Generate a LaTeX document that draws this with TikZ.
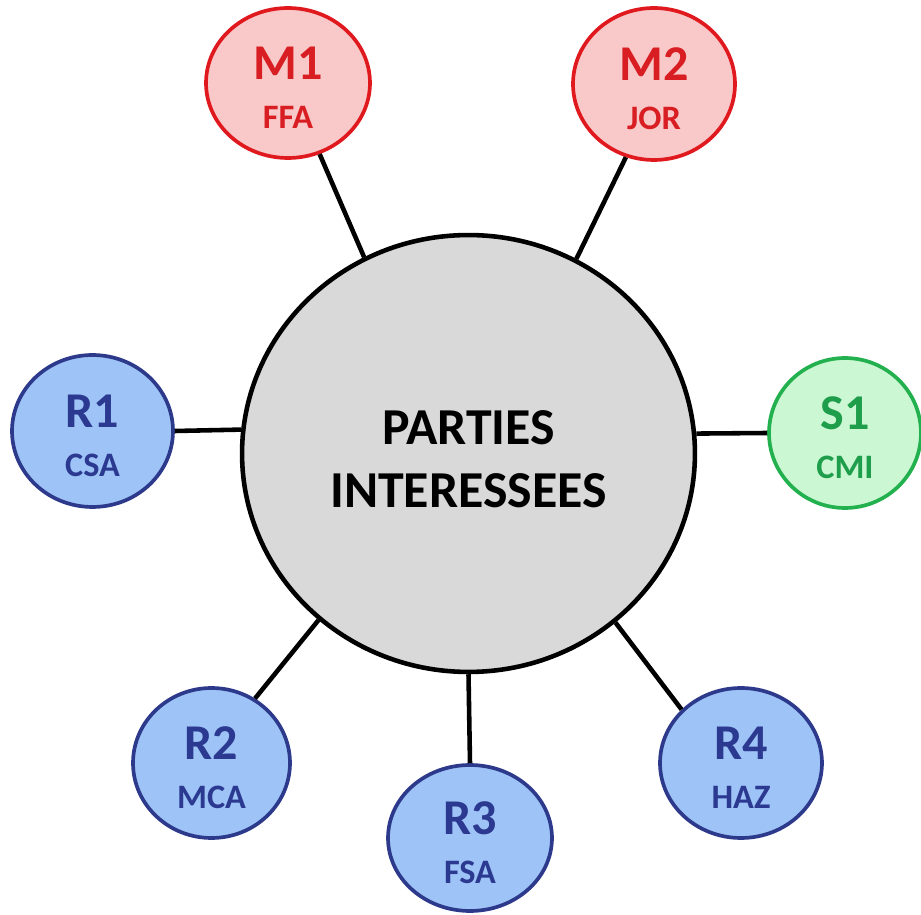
\documentclass[tikz,border=0pt]{standalone}
\usepackage{fontspec}
\setmainfont{Carlito}
\usetikzlibrary{shapes.geometric}
\definecolor{hubfill}{HTML}{D9D9D9}
\definecolor{redline}{HTML}{E0191E}
\definecolor{redfill}{HTML}{F9C8C8}
\definecolor{redtext}{HTML}{D81E22}
\definecolor{blueline}{HTML}{2D3A8C}
\definecolor{bluefill}{HTML}{9DC3F7}
\definecolor{bluetext}{HTML}{2B3990}
\definecolor{greenline}{HTML}{23B04E}
\definecolor{greenfill}{HTML}{CCF7D3}
\definecolor{greentext}{HTML}{1E9E4A}
\tikzset{
  hub/.style={ellipse, draw=black, line width=2.6pt, fill=hubfill, inner sep=0pt,
    minimum width=9.06cm, minimum height=8.74cm, align=center,
    font=\bfseries\fontsize{29.5}{36}\selectfont},
  party/.style={ellipse, inner sep=0pt, line width=2.1pt, align=center,
    minimum width=3.24cm, minimum height=3.0cm,
    font=\bfseries\fontsize{19.5}{27.5}\selectfont},
  redp/.style={party, draw=redline, fill=redfill, text=redtext},
  bluep/.style={party, draw=blueline, fill=bluefill, text=bluetext},
  greenp/.style={party, draw=greenline, fill=greenfill, text=greentext},
  conn/.style={draw=black, line width=2.6pt},
}
\newcommand{\toplabel}[1]{{\fontsize{28.5}{27.5}\selectfont\rule{0pt}{24pt}#1}}
\begin{document}
\begin{tikzpicture}[x=0.02cm,y=-0.02cm]
\useasboundingbox (0,0) rectangle (921,915);
\node[hub] (hub) at (468.5,453.5) {\rule{0pt}{26pt}PARTIES\\INTERESSEES};
\node[redp, minimum width=3.28cm, minimum height=3.0cm] (m1) at (288,83) {\toplabel{M1}\\FFA};
\node[redp, minimum width=3.24cm, minimum height=3.04cm] (m2) at (654,84) {\toplabel{M2}\\JOR};
\node[bluep, minimum width=3.22cm, minimum height=3.04cm] (r1) at (92.5,431) {\toplabel{R1}\\CSA};
\node[greenp, minimum width=3.04cm, minimum height=3.0cm] (s1) at (845,433) {\toplabel{S1}\\CMI};
\node[bluep, minimum width=3.14cm, minimum height=3.0cm] (r2) at (211.5,763) {\toplabel{R2}\\MCA};
\node[bluep, minimum width=3.28cm, minimum height=2.92cm] (r3) at (470,838) {\toplabel{R3}\\FSA};
\node[bluep, minimum width=3.24cm, minimum height=3.0cm] (r4) at (741,763) {\toplabel{R4}\\HAZ};
\draw[conn] (m1.294.4) -- (hub.118.4);
\draw[conn] (m2.249.1) -- (hub.61.5);
\draw[conn] (r1.east) -- (hub.174.6);
\draw[conn] (s1.west) -- (hub.5.4);
\draw[conn] (r2.56.2) -- (hub.228.3);
\draw[conn] (r3.north) -- (hub.270);
\draw[conn] (r4.138) -- (hub.311.3);
\end{tikzpicture}
\end{document}
